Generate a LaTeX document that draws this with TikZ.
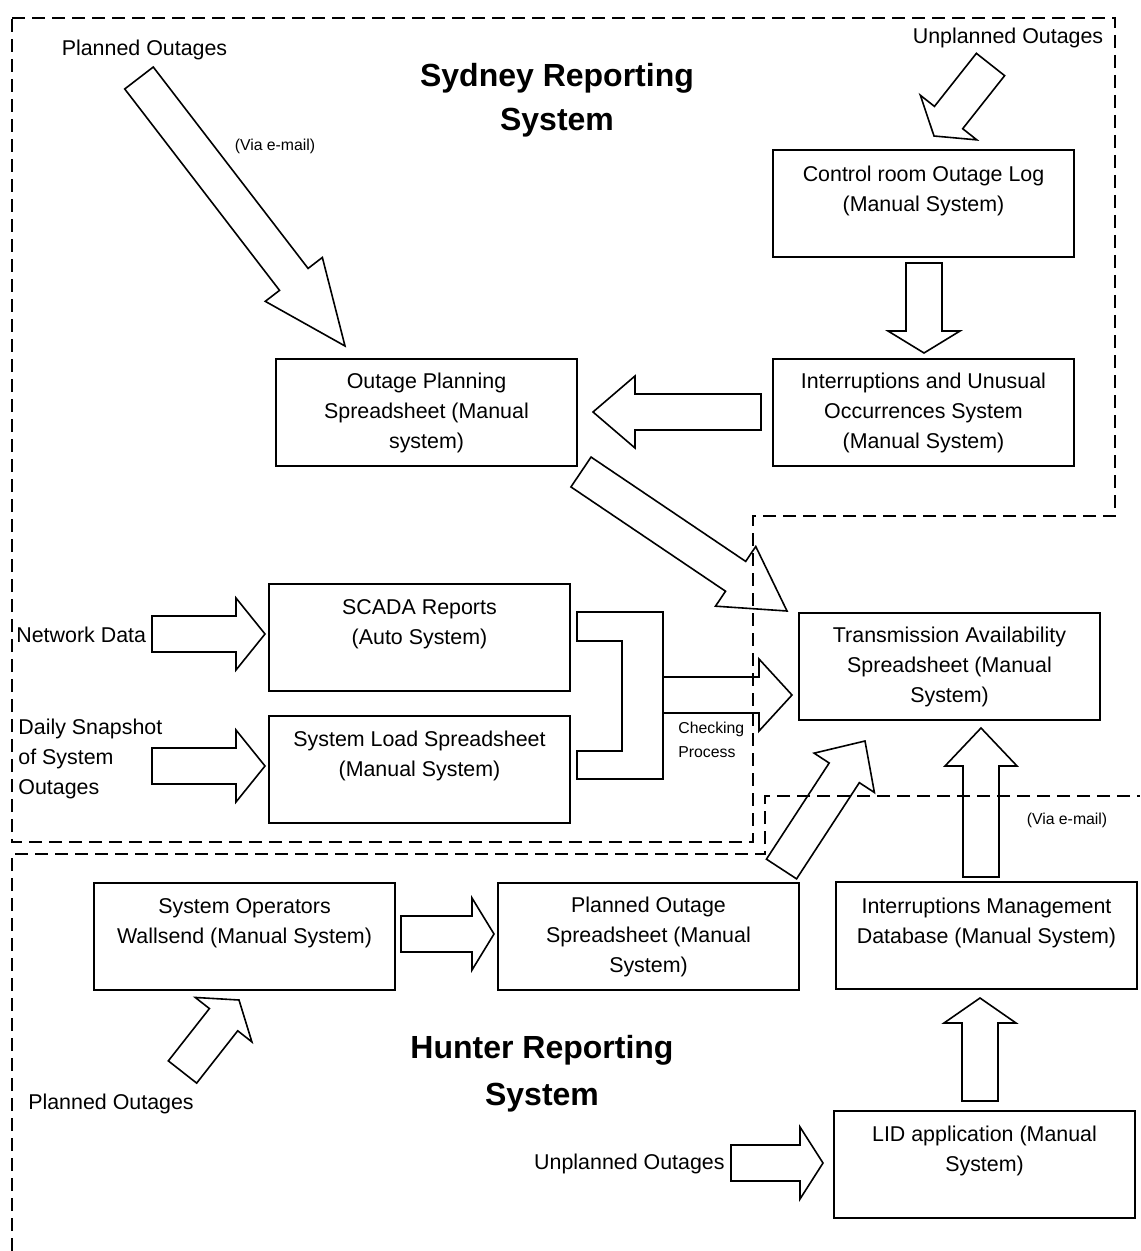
\documentclass[tikz,border=0pt]{standalone}
\usepackage{fontspec}
\setmainfont{Liberation Sans}
\usetikzlibrary{calc,positioning}
\tikzset{x=0.5pt,y=-0.5pt}
\tikzset{box/.style={draw,line width=1pt,minimum width=150.5pt,minimum height=53.5pt,
    inner sep=0pt,align=center,font=\fontsize{10.7}{15}\selectfont}}
\tikzset{fat arrow/.style={draw,line width=0.8pt,line join=miter}}
\tikzset{region/.style={draw,line width=1pt,dash pattern=on 6.5pt off 3.5pt}}
\tikzset{lbl/.style={inner sep=0pt,font=\fontsize{10.7}{15}\selectfont}}
\tikzset{note/.style={inner sep=0pt,font=\fontsize{7.9}{12}\selectfont}}
\tikzset{heading/.style={inner sep=0pt,align=center,font=\fontsize{16}{22}\selectfont\bfseries}}
% hollow block arrow: [head length]{tail}{tip}
\newcommand{\fatarrow}[3][12pt]{%
  \coordinate (neck) at ($(#3)!#1!(#2)$);
  \draw[fat arrow] ($(#2)!9pt!90:(#3)$) -- ($(neck)!9pt!90:(#3)$) -- ($(neck)!18pt!90:(#3)$)
    -- (#3) -- ($(neck)!18pt!-90:(#3)$) -- ($(neck)!9pt!-90:(#3)$) -- ($(#2)!9pt!-90:(#3)$) -- cycle;
}

\begin{document}
\begin{tikzpicture}
    \useasboundingbox (0,0) rectangle (1140,1251);

    % reporting regions
    \draw[region] (12,18) -- (1115,18) -- (1115,516) -- (753,516) -- (753,842) -- (12,842) -- cycle;
    \draw[region] (12,1251) -- (12,854) -- (765,854) -- (765,796) -- (1140,796);

    % Sydney
    \node[heading] (sydney) at (557,100) {Sydney Reporting\\System};
    \node[box] (ctrl)  at (923.5,203.5) {Control room Outage Log\\(Manual System)\\\mbox{}};
    \node[box] (iuo)   at (923.5,412.5) {Interruptions and Unusual\\Occurrences System\\(Manual System)};
    \node[box] (ops)   at (426.5,412.5) {Outage Planning\\Spreadsheet (Manual\\system)};
    \node[box] (scada) at (419.5,637)   {SCADA Reports\\(Auto System)\\\mbox{}};
    \node[box] (load)  at (419.5,769)   {System Load Spreadsheet\\(Manual System)\\\mbox{}};
    \node[box] (tas)   at (949.5,666.5) {Transmission Availability\\Spreadsheet (Manual\\System)};

    \node[lbl] (plannedS) at (144.5,50) {Planned Outages};
    \node[note] (mailS) at (275,146) {(Via e-mail)};
    \node[lbl] (unplannedS) at (1008,38) {Unplanned Outages};
    \node[lbl,anchor=west] (netdata) at (16,635) {Network Data};
    \node[lbl,anchor=west,align=left] (snapshot) at (18,759) {Daily Snapshot\\of System\\Outages};
    \node[note,anchor=west,align=left] (checking) at (678,740) {Checking\\Process};

    % Hunter
    \node[heading,font=\fontsize{16}{23.5}\selectfont\bfseries] (hunter) at (542,1073.5) {Hunter Reporting\\System};
    \node[box] (sysop) at (244.5,936.5) {System Operators\\Wallsend (Manual System)\\\mbox{}};
    \node[box] (pos)   at (648.5,936.5) {Planned Outage\\Spreadsheet (Manual\\System)};
    \node[box] (imd)   at (986.5,935.5) {Interruptions Management\\Database (Manual System)\\\mbox{}};
    \node[box] (lid)   at (984.5,1164)  {LID application (Manual\\System)\\\mbox{}};

    \node[lbl] (plannedH) at (111,1104) {Planned Outages};
    \node[lbl,anchor=east] (unplannedH) at (725,1164) {Unplanned Outages};
    \node[note] (mailH) at (1067,820) {(Via e-mail)};

    % arrow ends
    \coordinate (a1) at (139,78);    \coordinate (b1) at (345,346);
    \coordinate (a2) at (990.5,64.5);\coordinate (b2) at (934,136);
    \coordinate (a3) at (924,263);   \coordinate (b3) at (924,353);
    \coordinate (a4) at (761,412);   \coordinate (b4) at (593,412);
    \coordinate (a5) at (581,472);   \coordinate (b5) at (787,611);
    \coordinate (a6) at (152,634);   \coordinate (b6) at (265,634);
    \coordinate (a7) at (152,766);   \coordinate (b7) at (265,766);
    \coordinate (a8) at (663,695);   \coordinate (b8) at (792,695);
    \coordinate (a9) at (781.5,869); \coordinate (b9) at (865,741);
    \coordinate (a10) at (981,877);  \coordinate (b10) at (981,728);
    \coordinate (a11) at (401,934);  \coordinate (b11) at (494,934);
    \coordinate (a12) at (182.5,1072);\coordinate (b12) at (239,1000);
    \coordinate (a13) at (980,1101); \coordinate (b13) at (980,998);
    \coordinate (a14) at (731,1163); \coordinate (b14) at (823,1163);

    \fatarrow[42pt]{a1}{b1}
    \fatarrow[11.75pt]{a2}{b2}
    \fatarrow[11pt]{a3}{b3}
    \fatarrow[21pt]{a4}{b4}
    \fatarrow[31pt]{a5}{b5}
    \fatarrow[14.5pt]{a6}{b6}
    \fatarrow[14.5pt]{a7}{b7}
    \fatarrow[16.5pt]{a8}{b8}
    \fatarrow[19pt]{a9}{b9}
    \fatarrow[19pt]{a10}{b10}
    \fatarrow[11pt]{a11}{b11}
    \fatarrow[12.5pt]{a12}{b12}
    \fatarrow[12.5pt]{a13}{b13}
    \fatarrow[11.5pt]{a14}{b14}

    % joining bracket of SCADA and system load
    \draw[fat arrow] (577,612) -- (663,612) -- (663,779) -- (577,779) -- (577,751)
        -- (622,751) -- (622,641) -- (577,641) -- cycle;
\end{tikzpicture}
\end{document}
